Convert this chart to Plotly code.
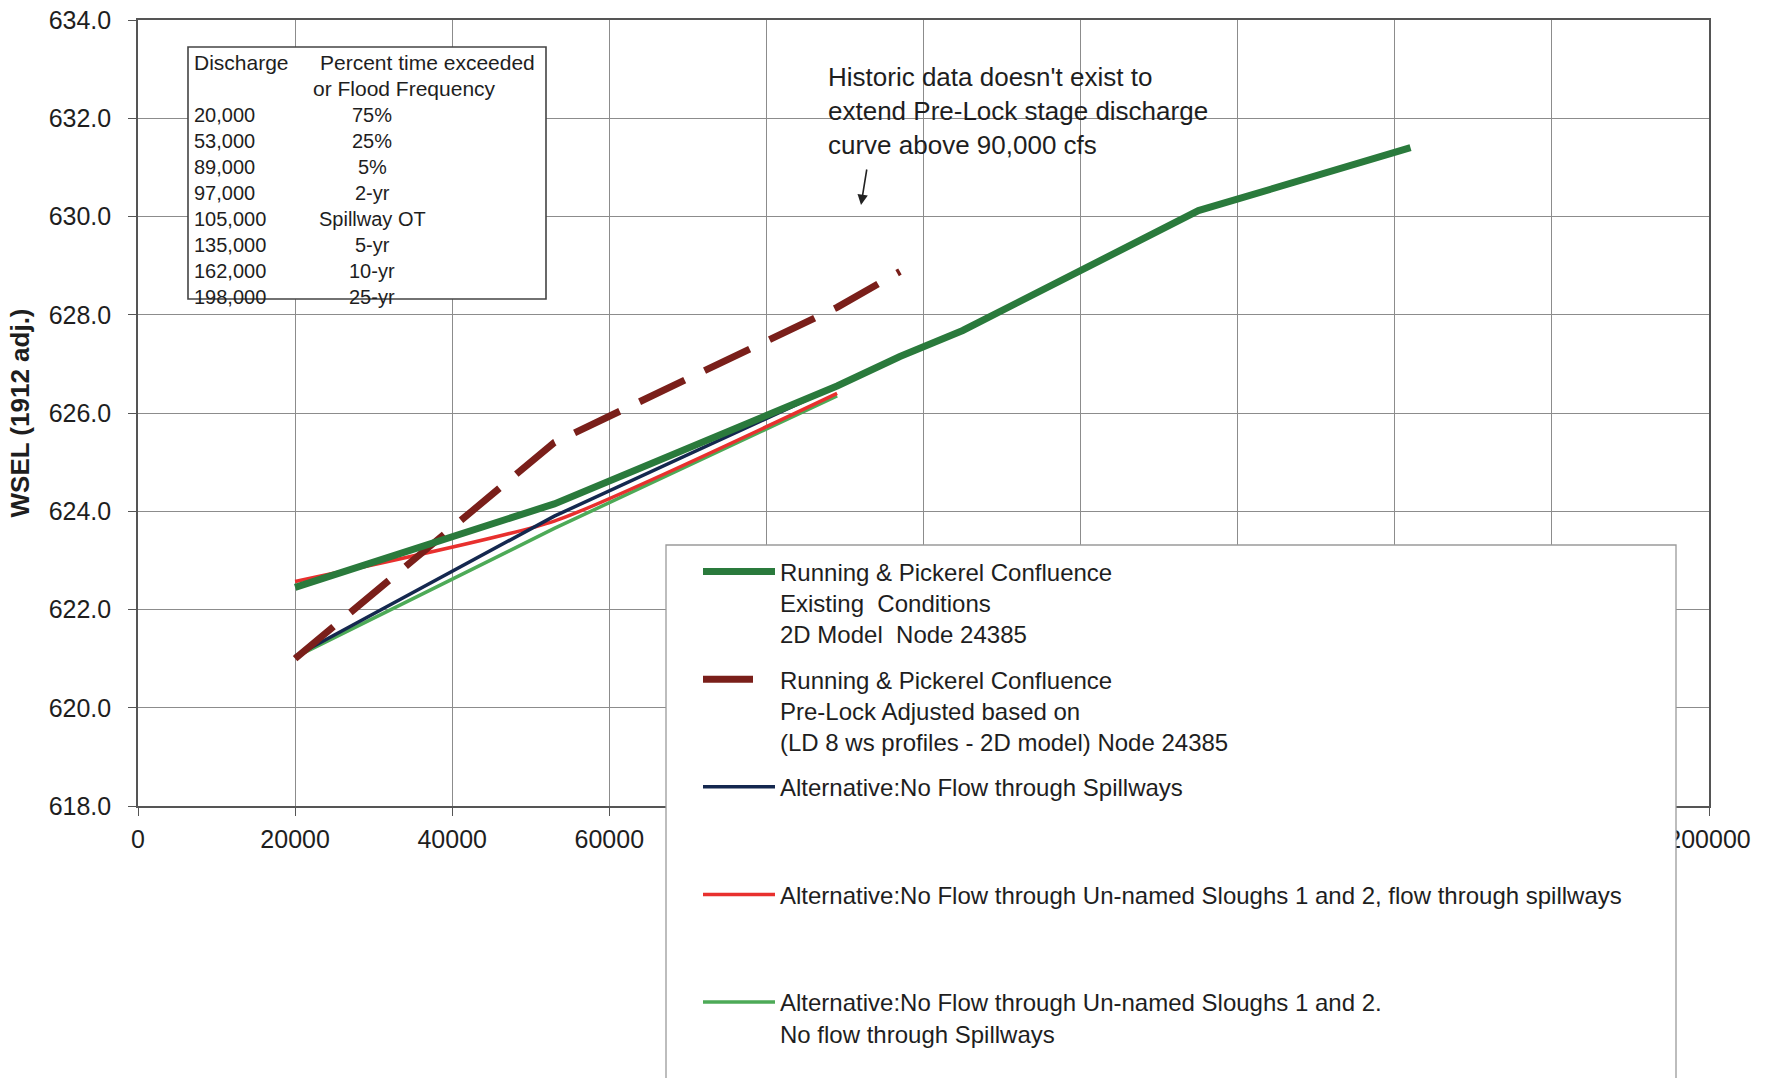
import plotly.graph_objects as go

# ---------------- data ----------------
discharge_existing = [20000, 53000, 89000, 97000, 105000, 135000, 162000]
wsel_existing = [622.45, 624.15, 626.55, 627.15, 627.68, 630.12, 631.40]

discharge_prelock = [20000, 53000, 89000, 97000]
wsel_prelock = [621.00, 625.40, 628.15, 628.88]

discharge_alt = [20000, 53000, 89000]
wsel_no_spillways = [621.05, 623.90, 626.55]
wsel_no_sloughs_spill = [622.57, 623.80, 626.40]
wsel_no_sloughs_no_spill = [621.03, 623.65, 626.35]

series_names = [
    "Running & Pickerel Confluence<br>Existing  Conditions<br>2D Model  Node 24385",
    "Running & Pickerel Confluence<br>Pre-Lock Adjusted based on<br>(LD 8 ws profiles - 2D model) Node 24385",
    "Alternative:No Flow through Spillways<br>&nbsp;<br>&nbsp;",
    "Alternative:No Flow through Un-named Sloughs 1 and 2, flow through spillways<br>&nbsp;<br>&nbsp;",
    "Alternative:No Flow through Un-named Sloughs 1 and 2.<br>No flow through Spillways",
]

table_discharge = ["20,000", "53,000", "89,000", "97,000", "105,000", "135,000", "162,000", "198,000"]
table_frequency = ["75%", "25%", "5%", "2-yr", "Spillway OT", "5-yr", "10-yr", "25-yr"]

note_lines = ["Historic data doesn't exist to",
              "extend Pre-Lock stage discharge",
              "curve above 90,000 cfs"]

x_ticks = list(range(0, 200001, 20000))
y_ticks = [618.0, 620.0, 622.0, 624.0, 626.0, 628.0, 630.0, 632.0, 634.0]

# ---------------- layout helpers ----------------
W, H = 1769, 1078
L, R, T, B = 138, 1709, 20, 806
FONT = "Arial, Liberation Sans, sans-serif"
TXT = "#1e1e1e"


def fx(p):
    return (p - L) / (R - L)


def fy(p):
    return (B - p) / (B - T)


fig = go.Figure()

styles = [
    dict(color="#2a7a3c", width=7),
    dict(color="#7a1f1a", width=7, dash="50px,22px"),
    dict(color="#14284f", width=3.5),
    dict(color="#e8302e", width=3.5, shape="spline", smoothing=0.5),
    dict(color="#4daa57", width=3.5),
]
xs = [discharge_existing, discharge_prelock, discharge_alt, discharge_alt, discharge_alt]
ys = [wsel_existing, wsel_prelock, wsel_no_spillways, wsel_no_sloughs_spill, wsel_no_sloughs_no_spill]

draw_order = [4, 3, 2, 1, 0]
traces = []
for i in range(5):
    traces.append(go.Scatter(x=xs[i], y=ys[i], mode="lines", name=series_names[i],
                             line=styles[i], legendgroup=f"g{i}", legendrank=i + 1,
                             hoverinfo="x+y"))
for i in draw_order:
    fig.add_trace(traces[i])

shapes = [
    # legend frame (covers the lower right of the plot)
    dict(type="rect", xref="paper", yref="paper", x0=fx(666), x1=fx(1676), y0=fy(1095), y1=fy(545),
         fillcolor="white", line=dict(color="#9a9a9a", width=1.3), layer="above"),
    # table frame
    dict(type="rect", xref="paper", yref="paper", x0=fx(188), x1=fx(546), y0=fy(299), y1=fy(47),
         fillcolor="white", line=dict(color="#444", width=1.6), layer="above"),
]

annotations = []
# table
row_step = 26.0
annotations.append(dict(xref="paper", yref="paper", x=fx(192), y=fy(63), text="Discharge",
                        showarrow=False, xanchor="left", yanchor="middle",
                        font=dict(size=21, color=TXT, family=FONT)))
annotations.append(dict(xref="paper", yref="paper", x=fx(318), y=fy(63), text="Percent time exceeded",
                        showarrow=False, xanchor="left", yanchor="middle",
                        font=dict(size=21, color=TXT, family=FONT)))
annotations.append(dict(xref="paper", yref="paper", x=fx(311), y=fy(63 + row_step), text="or Flood Frequency",
                        showarrow=False, xanchor="left", yanchor="middle",
                        font=dict(size=21, color=TXT, family=FONT)))
for k, (d, f) in enumerate(zip(table_discharge, table_frequency)):
    yy = 63 + row_step * (k + 2)
    annotations.append(dict(xref="paper", yref="paper", x=fx(192), y=fy(yy), text=d,
                            showarrow=False, xanchor="left", yanchor="middle",
                            font=dict(size=20, color=TXT, family=FONT)))
    annotations.append(dict(xref="paper", yref="paper", x=fx(372), y=fy(yy), text=f,
                            showarrow=False, xanchor="center", yanchor="middle",
                            font=dict(size=20, color=TXT, family=FONT)))

# note + arrow
annotations.append(dict(xref="paper", yref="paper", x=fx(826), y=fy(111), text="<br>".join(note_lines),
                        showarrow=False, xanchor="left", yanchor="middle", align="left",
                        font=dict(size=26, color=TXT, family=FONT)))
annotations.append(dict(xref="paper", yref="paper", x=fx(861), y=fy(205), text="",
                        showarrow=True, ax=6, ay=-37, arrowhead=2, arrowsize=1.3,
                        arrowwidth=1.6, arrowcolor="#222"))

fig.update_layout(
    width=W, height=H, autosize=False,
    margin=dict(l=L, r=W - R, t=T, b=H - B, pad=0),
    paper_bgcolor="white", plot_bgcolor="white",
    font=dict(family=FONT, color=TXT),
    showlegend=True,
    legend=dict(x=fx(698), y=fy(549.5), xanchor="left", yanchor="top",
                bgcolor="rgba(0,0,0,0)", borderwidth=0,
                font=dict(size=24, color=TXT, family=FONT),
                itemwidth=72, valign="top", tracegroupgap=11, traceorder="grouped"),
    shapes=shapes,
    annotations=annotations,
    xaxis=dict(range=[0, 200000], tickvals=x_ticks, tickformat="d",
               showgrid=True, gridcolor="#8c8c8c", gridwidth=1.3,
               showline=True, linecolor="#555", linewidth=1.6, mirror=True,
               ticks="outside", ticklen=8, tickcolor="#555", tickwidth=1.3,
               tickfont=dict(size=25, color=TXT, family=FONT), ticklabelstandoff=2,
               zeroline=False, automargin=False),
    yaxis=dict(range=[618, 634], tickvals=y_ticks, tickformat=".1f",
               showgrid=True, gridcolor="#8c8c8c", gridwidth=1.3,
               showline=True, linecolor="#555", linewidth=1.6, mirror=True,
               ticks="outside", ticklen=8, tickcolor="#555", tickwidth=1.3,
               tickfont=dict(size=25, color=TXT, family=FONT), ticklabelstandoff=12,
               zeroline=False, automargin=False,
               title=dict(text="<b>WSEL (1912 adj.)</b>", standoff=12,
                          font=dict(size=26, color=TXT, family=FONT))),
)

fig.write_html("out.html", include_plotlyjs=True, config={"displayModeBar": False},
               post_script="document.body.style.margin='0';document.body.style.overflow='hidden';")
